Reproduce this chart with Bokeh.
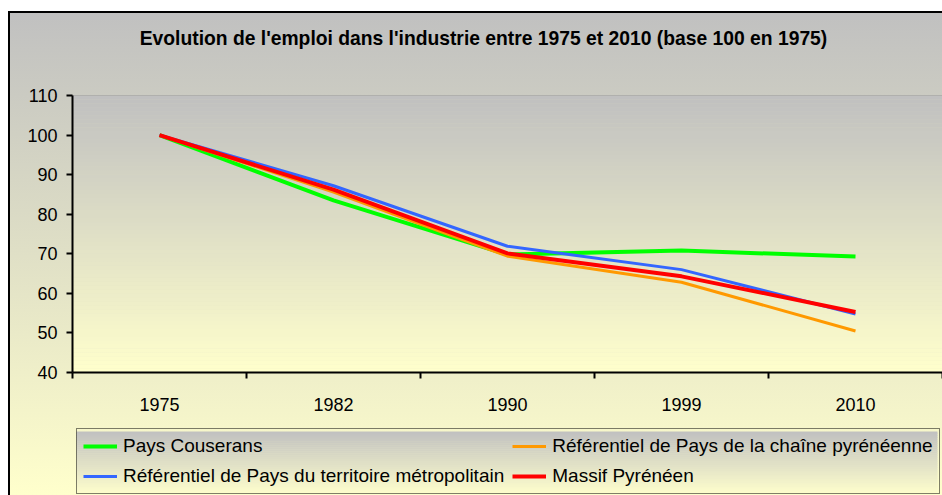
from bokeh.plotting import figure
from bokeh.models import (Range1d, FixedTicker, Legend, LegendItem, Label,
                          BoxAnnotation, LinearAxis)
from bokeh.embed import file_html
from bokeh.resources import INLINE

# ---- data ----
years = ["1975", "1982", "1990", "1999", "2010"]
couserans = [100, 83.5, 69.8, 70.8, 69.3]
chaine_pyr = [100, 85.6, 69.4, 62.8, 50.5]
metropole = [100, 87.2, 71.9, 66.0, 54.8]
massif = [100, 86.2, 70.1, 64.3, 55.3]
y_ticks = [40, 50, 60, 70, 80, 90, 100, 110]
y_min, y_max = 40, 110

title_text = "Evolution de l'emploi dans l'industrie entre 1975 et 2010 (base 100 en 1975)"
names = ["Pays Couserans",
         "Référentiel de Pays de la chaîne pyrénéenne",
         "Référentiel de Pays du territoire métropolitain",
         "Massif Pyrénéen"]
colors = ["#00FF00", "#FF9900", "#3366FF", "#FF0000"]
widths = [4, 3, 3, 4]

FONT = "Liberation Sans"

# ---- layout (pixels, relative to the figure canvas) ----
W, H = 934, 484
PA_LEFT, PA_TOP, PA_RIGHT, PA_BOTTOM = 64, 84, 934, 361   # plot-area box
n = len(years)
px_per_x = (PA_RIGHT - PA_LEFT) / n
px_per_y = (PA_BOTTOM - PA_TOP) / (y_max - y_min)
x_start = -PA_LEFT / px_per_x
x_end = n + (W - PA_RIGHT) / px_per_x
y_end = y_max + PA_TOP / px_per_y
y_start = y_min - (H - PA_BOTTOM) / px_per_y

xs = [i + 0.5 for i in range(n)]

p = figure(width=W, height=H, output_backend="svg", toolbar_location=None,
           x_range=Range1d(x_start, x_end), y_range=Range1d(y_start, y_end),
           x_axis_location=None, y_axis_location=None,
           min_border=0, min_border_left=0, min_border_right=0,
           min_border_top=0, min_border_bottom=0)
p.margin = (11, 0, 0, 8)
p.styles = {"background": "linear-gradient(to bottom, #C0C0C0 0%, #FFFFCC 100%)",
            "box-shadow": "inset 2px 2px 0 0 #000000"}
p.border_fill_alpha = 0
p.background_fill_alpha = 0
p.outline_line_alpha = 0
p.grid.visible = False

# plot-area gradient (decorative bands)
c0 = (0xC0, 0xC0, 0xC0)
c1 = (0xFF, 0xFF, 0xCC)
nb = 70
for k in range(nb):
    t = (k + 0.5) / nb
    col = "#%02x%02x%02x" % tuple(int(round(a + (b - a) * t)) for a, b in zip(c0, c1))
    top = y_max - (y_max - y_min) * k / nb
    bot = y_max - (y_max - y_min) * (k + 1) / nb
    p.add_layout(BoxAnnotation(top=top, bottom=bot - 0.02, left=0, right=n,
                               fill_color=col, fill_alpha=1, line_alpha=0,
                               level="underlay"))
# plot-area border
p.add_layout(BoxAnnotation(top=y_max, bottom=y_min, left=0, right=n,
                           fill_alpha=0, line_color="#808080", line_width=1,
                           level="underlay"))

# legend gradient (decorative bands, canvas units)
lg_top, lg_bot, lg_left, lg_right = 420, 483, 68, 929
nl = 32
for k in range(nl):
    t = (k + 0.5) / nl
    col = "#%02x%02x%02x" % tuple(int(round(a + (b - a) * t)) for a, b in zip(c0, c1))
    tt = lg_top + (lg_bot - lg_top) * k / nl
    bb = lg_top + (lg_bot - lg_top) * (k + 1) / nl + 0.5
    p.add_layout(BoxAnnotation(top=tt, bottom=bb, left=lg_left, right=lg_right,
                               top_units="canvas", bottom_units="canvas",
                               left_units="canvas", right_units="canvas",
                               fill_color=col, fill_alpha=1, line_alpha=0,
                               level="underlay"))

series = [couserans, chaine_pyr, metropole, massif]
renderers = []
for vals, c, w in zip(series, colors, widths):
    r = p.line(xs, vals, line_color=c, line_width=w)
    renderers.append(r)

# axes
xa = LinearAxis(fixed_location=y_min, bounds=(0, n))
xa.ticker = FixedTicker(ticks=xs, minor_ticks=list(range(n + 1)))
xa.major_label_overrides = {x: y for x, y in zip(xs, years)}
xa.major_tick_out = 0
xa.major_tick_in = 0
xa.minor_tick_out = 6
xa.minor_tick_in = 0
xa.minor_tick_line_color = "#000000"
xa.minor_tick_line_width = 2
xa.axis_line_color = "#000000"
xa.axis_line_width = 2
xa.major_label_standoff = 19
xa.major_label_text_font = FONT
xa.major_label_text_font_size = "18px"
xa.major_label_text_color = "#000000"
p.add_layout(xa, "below")

ya = LinearAxis(fixed_location=0, bounds=(y_min, y_max))
ya.ticker = FixedTicker(ticks=y_ticks)
ya.minor_tick_out = 0
ya.minor_tick_in = 0
ya.major_tick_out = 6
ya.major_tick_in = 0
ya.major_tick_line_color = "#000000"
ya.major_tick_line_width = 2
ya.axis_line_color = "#000000"
ya.axis_line_width = 2
ya.major_label_standoff = 9
ya.major_label_text_font = FONT
ya.major_label_text_font_size = "18px"
ya.major_label_text_color = "#000000"
p.add_layout(ya, "left")

# title
p.add_layout(Label(x=475, y=27, x_units="canvas", y_units="canvas", text=title_text,
                   text_font=FONT, text_font_size="19.3px", text_font_style="bold",
                   text_align="center", text_baseline="middle", text_color="#000000"))

legend = Legend(items=[LegendItem(label=nm, renderers=[r]) for nm, r in zip(names, renderers)],
                location=(68, 1), orientation="horizontal", ncols=2,
                label_text_font=FONT, label_text_font_size="19px",
                label_text_color="#000000", label_height=22, glyph_height=22,
                glyph_width=34, label_standoff=6, padding=6, spacing=8,
                margin=0, border_line_color="#000000", border_line_width=1,
                background_fill_alpha=0)
p.add_layout(legend, "center")

open("out.html", "w").write(file_html(p, INLINE))
